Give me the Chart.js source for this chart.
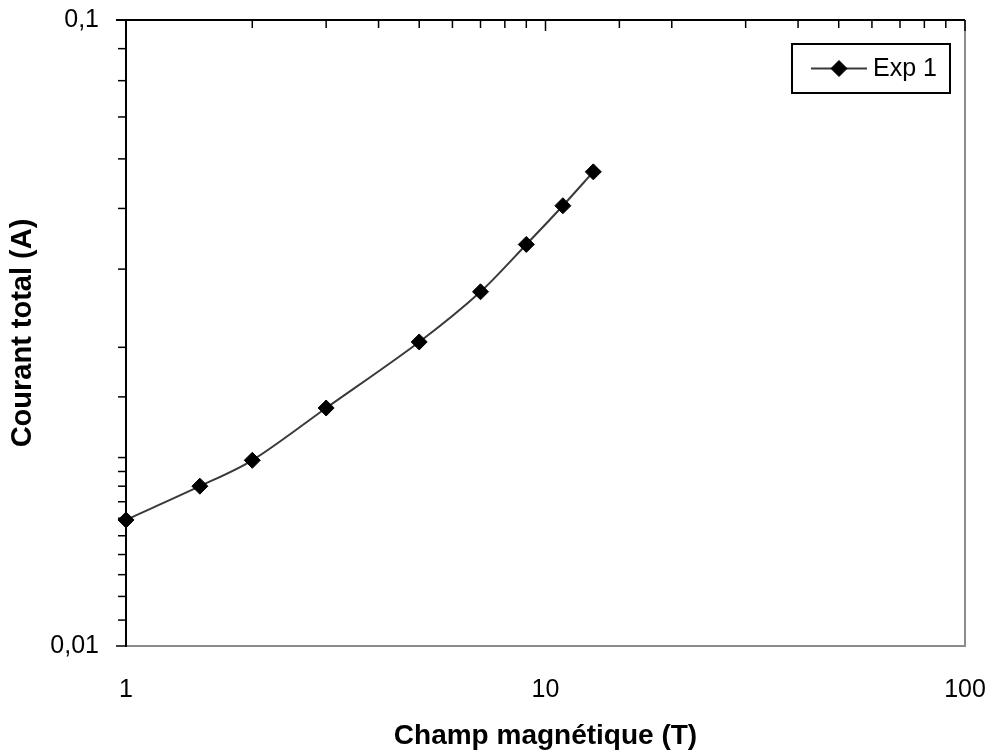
<!DOCTYPE html>
<html>
<head>
<meta charset="utf-8">
<script src="https://cdn.jsdelivr.net/npm/chart.js@4"></script>
<style>
  html, body { margin: 0; padding: 0; background: #fff; }
  #wrap { width: 990px; height: 753px; }
</style>
</head>
<body>
<div id="wrap"><canvas id="chart" width="990" height="753"></canvas></div>
<script>
// data
var fieldValues = [1, 1.5, 2, 3, 5, 7, 9, 11, 13];
var currentValues = [0.0159, 0.0180, 0.0198, 0.0240, 0.0306, 0.0368, 0.0438, 0.0505, 0.0572];
var seriesName = "Exp 1";
var xTickValues = [1, 10, 100];
var xTickLabels = ["1", "10", "100"];
var yTickValues = [0.01, 0.1];
var yTickLabels = ["0,01", "0,1"];

function labelFor(v, vals, labels) {
  for (var i = 0; i < vals.length; i++) {
    if (Math.abs(v - vals[i]) / vals[i] < 1e-6) return labels[i];
  }
  return "";
}

function isDecade(v) {
  var l = Math.log10(v);
  return Math.abs(l - Math.round(l)) < 1e-6;
}

// top axis line with inward ticks, left axis ticks, right frame, legend box
var framePlugin = {
  id: "frame",
  afterDraw: function (chart) {
    var ctx = chart.ctx;
    var a = chart.chartArea;
    var xs = chart.scales.x, ys = chart.scales.y;
    ctx.save();

    // right border (grey)
    ctx.strokeStyle = "#8c8c8c";
    ctx.lineWidth = 2;
    ctx.beginPath();
    ctx.moveTo(a.right, a.top);
    ctx.lineTo(a.right, a.bottom);
    ctx.stroke();

    // top axis line
    ctx.strokeStyle = "#000";
    ctx.lineWidth = 2;
    ctx.beginPath();
    ctx.moveTo(a.left - 10, a.top);
    ctx.lineTo(a.right, a.top);
    ctx.stroke();

    // x ticks pointing down from top line
    ctx.lineWidth = 1.5;
    xs.ticks.forEach(function (t) {
      var px = xs.getPixelForValue(t.value);
      var len = isDecade(t.value) ? 11 : 8;
      ctx.beginPath();
      ctx.moveTo(px, a.top);
      ctx.lineTo(px, a.top + len);
      ctx.stroke();
    });

    // y ticks pointing left
    ys.ticks.forEach(function (t) {
      var py = ys.getPixelForValue(t.value);
      var len = isDecade(t.value) ? 10 : 8;
      ctx.beginPath();
      ctx.moveTo(a.left - len, py);
      ctx.lineTo(a.left, py);
      ctx.stroke();
    });

    // legend
    var ds = chart.data.datasets[0];
    var bx = a.right - 173, by = a.top + 24, bw = 158, bh = 49;
    ctx.fillStyle = "#fff";
    ctx.fillRect(bx, by, bw, bh);
    ctx.strokeStyle = "#000";
    ctx.lineWidth = 2;
    ctx.strokeRect(bx, by, bw, bh);
    var ly = by + bh / 2;
    ctx.strokeStyle = ds.borderColor;
    ctx.lineWidth = ds.borderWidth;
    ctx.beginPath();
    ctx.moveTo(bx + 19, ly);
    ctx.lineTo(bx + 75, ly);
    ctx.stroke();
    ctx.fillStyle = "#000";
    ctx.strokeStyle = "#000";
    ctx.lineWidth = 1;
    Chart.helpers.drawPoint(ctx, {
      pointStyle: "rectRot", radius: ds.pointRadius, borderWidth: 1
    }, bx + 47, ly);
    ctx.font = "25px 'Liberation Sans', Arial, sans-serif";
    ctx.textBaseline = "middle";
    ctx.textAlign = "left";
    ctx.fillText(ds.label, bx + 81, ly + 1);

    ctx.restore();
  }
};

var ctx = document.getElementById("chart").getContext("2d");

var chart = new Chart(ctx, {
  type: "line",
  data: {
    datasets: [
      {
        label: seriesName,
        data: fieldValues.map(function (x, i) { return { x: x, y: currentValues[i] }; }),
        borderColor: "#3a3a3a",
        borderWidth: 2,
        backgroundColor: "#000",
        pointStyle: "rectRot",
        pointRadius: 8,
        pointBorderColor: "#000",
        pointBackgroundColor: "#000",
        pointBorderWidth: 1,
        tension: 0.3,
        fill: false,
        clip: false,
      },
    ],
  },
  options: {
    responsive: false,
    animation: false,
    layout: { padding: { top: 20, right: 25, left: 0, bottom: 0 } },
    plugins: {
      legend: { display: false },
      tooltip: { enabled: false },
    },
    scales: {
      x: {
        type: "logarithmic",
        position: "bottom",
        min: 1,
        max: 100,
        grid: { display: false, drawTicks: false },
        border: { display: true, color: "#8c8c8c", width: 2 },
        ticks: {
          autoSkip: false,
          maxRotation: 0,
          padding: 29,
          color: "#000",
          font: { family: "'Liberation Sans', Arial, sans-serif", size: 25 },
          callback: function (v) { return labelFor(v, xTickValues, xTickLabels); },
        },
        title: {
          display: true,
          text: "Champ magnétique (T)",
          color: "#000",
          padding: { top: 0, bottom: 0 },
          font: { family: "'Liberation Sans', Arial, sans-serif", size: 28, weight: "bold" },
        },
        afterFit: function (scale) {
          scale.height = 107;
          scale.paddingLeft = 0;
          scale.paddingRight = 0;
        },
      },
      y: {
        type: "logarithmic",
        min: 0.01,
        max: 0.1,
        grid: { display: false, drawTicks: false },
        border: { display: true, color: "#000", width: 2 },
        ticks: {
          autoSkip: false,
          padding: 27,
          color: "#000",
          font: { family: "'Liberation Sans', Arial, sans-serif", size: 25 },
          callback: function (v) { return labelFor(v, yTickValues, yTickLabels); },
        },
        title: {
          display: true,
          text: "Courant total (A)",
          color: "#000",
          padding: { top: 6, bottom: 0 },
          font: { family: "'Liberation Sans', Arial, sans-serif", size: 29, weight: "bold" },
        },
        afterFit: function (scale) {
          scale.width = 126;
          scale.paddingTop = 0;
          scale.paddingBottom = 0;
        },
      },
    },
  },
  plugins: [framePlugin],
});
</script>
</body>
</html>
